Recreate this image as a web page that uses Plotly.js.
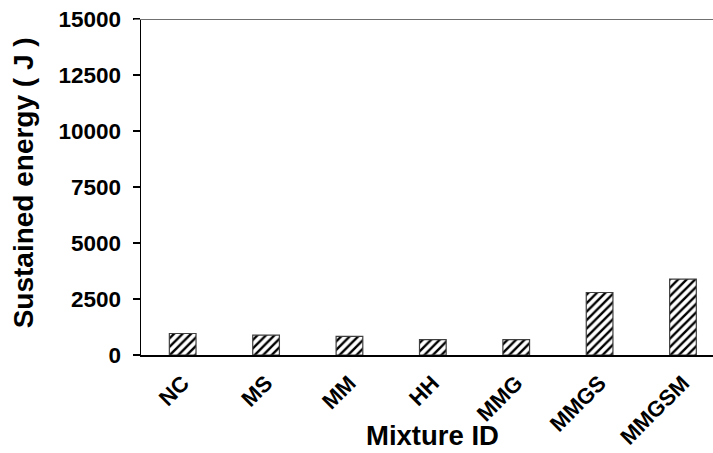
<!DOCTYPE html>
<html>
<head>
<meta charset="utf-8">
<script src="https://cdn.plot.ly/plotly-3.0.1.min.js"></script>
<style>html,body{margin:0;padding:0;background:#fff;}#chart{width:713px;height:453px;}</style>
</head>
<body>
<div id="chart"></div>
<script>
var categories = ["NC", "MS", "MM", "HH", "MMG", "MMGS", "MMGSM"];
var sustainedEnergy = [960, 890, 830, 690, 690, 2790, 3390];
var yTickValues = [0, 2500, 5000, 7500, 10000, 12500, 15000];
var yTickLabels = ["0", "2500", "5000", "7500", "10000", "12500", "15000"];

var FONT = "Liberation Sans, Arial, sans-serif";

var trace = {
  type: "bar",
  x: categories,
  y: sustainedEnergy,
  width: 0.32,
  marker: {
    color: "#ffffff",
    line: {color: "#404040", width: 1.2},
    pattern: {shape: "/", fgcolor: "#000000", bgcolor: "#ffffff", size: 6, solidity: 0.4}
  },
  hoverinfo: "x+y"
};

var layout = {
  width: 713,
  height: 453,
  margin: {l: 141, r: 0, t: 19, b: 98, pad: 0},
  paper_bgcolor: "#ffffff",
  plot_bgcolor: "#ffffff",
  showlegend: false,
  font: {family: FONT, color: "#000000"},
  xaxis: {
    type: "category",
    range: [-0.5, 6.36],
    showline: true,
    linecolor: "#000000",
    linewidth: 1.5,
    ticks: "",
    showgrid: false,
    zeroline: false,
    tickangle: -45,
    ticklabelstandoff: 5,
    tickfont: {family: FONT, size: 22, color: "#000000", weight: "bold"},
    automargin: false
  },
  yaxis: {
    range: [0, 15000],
    tickvals: yTickValues,
    ticktext: yTickLabels,
    ticks: "outside",
    ticklen: 7,
    tickwidth: 1.2,
    tickcolor: "#000000",
    showline: true,
    linecolor: "#000000",
    linewidth: 1.5,
    showgrid: false,
    zeroline: false,
    ticklabelstandoff: 7,
    tickfont: {family: FONT, size: 22.5, color: "#000000", weight: "bold"},
    automargin: false
  },
  shapes: [
    {type: "line", xref: "paper", yref: "y", x0: -0.012, x1: 1, y0: 15000, y1: 15000,
     line: {color: "#707070", width: 2}}
  ],
  annotations: [
    {text: "Mixture ID", xref: "paper", yref: "paper", x: 0.51, y: -0.241,
     xanchor: "center", yanchor: "middle", showarrow: false,
     font: {family: FONT, size: 27.5, color: "#000000", weight: "bold"}},
    {text: "Sustained energy ( J )", xref: "paper", yref: "paper", x: -0.205, y: 0.513,
     xanchor: "center", yanchor: "middle", textangle: -90, showarrow: false,
     font: {family: FONT, size: 28, color: "#000000", weight: "bold"}}
  ]
};

Plotly.newPlot("chart", [trace], layout, {staticPlot: true, displayModeBar: false});
</script>
</body>
</html>
